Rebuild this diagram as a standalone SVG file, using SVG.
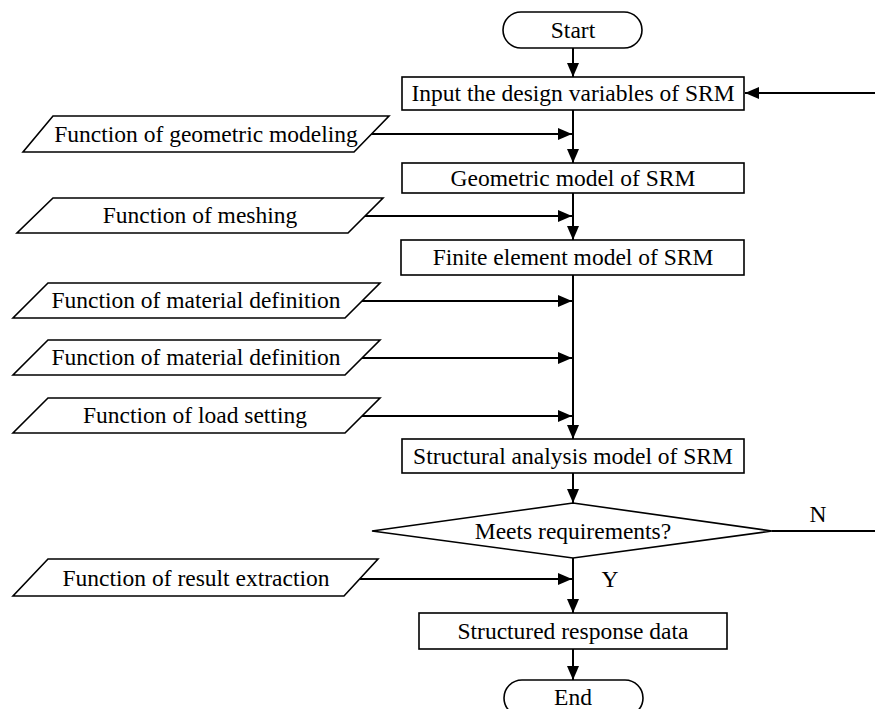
<svg xmlns="http://www.w3.org/2000/svg" width="875" height="709" viewBox="0 0 875 709">
  <style>
    .shape { fill: #ffffff; stroke: #000000; stroke-width: 1.6; }
    .label { font-family: "Liberation Serif", "Times New Roman", serif; font-size: 23.5px; fill: #000000; text-anchor: middle; }
    .flow { fill: none; stroke: #000000; stroke-width: 2; }
  </style>
  <defs>
    <marker id="arrow" markerUnits="userSpaceOnUse" markerWidth="14" markerHeight="12" refX="14" refY="6" orient="auto">
      <path d="M0,0 L14,6 L0,12 z" fill="#000000"/>
    </marker>
  </defs>
  <rect width="875" height="709" fill="#ffffff"/>

  <!-- connectors -->
  <g id="connectors">
    <!-- main spine -->
    <line class="flow" x1="573" y1="48" x2="573" y2="77" marker-end="url(#arrow)"/>
    <line class="flow" x1="573" y1="110" x2="573" y2="163" marker-end="url(#arrow)"/>
    <line class="flow" x1="573" y1="193" x2="573" y2="240" marker-end="url(#arrow)"/>
    <line class="flow" x1="573" y1="275" x2="573" y2="439" marker-end="url(#arrow)"/>
    <line class="flow" x1="573" y1="473" x2="573" y2="503" marker-end="url(#arrow)"/>
    <line class="flow" x1="573" y1="558" x2="573" y2="613" marker-end="url(#arrow)"/>
    <line class="flow" x1="573" y1="649" x2="573" y2="680" marker-end="url(#arrow)"/>
    <!-- function inputs -->
    <line class="flow" x1="371" y1="134" x2="572" y2="134" marker-end="url(#arrow)"/>
    <line class="flow" x1="365" y1="216" x2="572" y2="216" marker-end="url(#arrow)"/>
    <line class="flow" x1="362" y1="301" x2="572" y2="301" marker-end="url(#arrow)"/>
    <line class="flow" x1="362" y1="358" x2="572" y2="358" marker-end="url(#arrow)"/>
    <line class="flow" x1="362" y1="416" x2="572" y2="416" marker-end="url(#arrow)"/>
    <line class="flow" x1="360" y1="579" x2="572" y2="579" marker-end="url(#arrow)"/>
    <!-- loop back on N -->
    <line class="flow" x1="772" y1="531" x2="875" y2="531"/>
    <line class="flow" x1="875" y1="93" x2="745" y2="93" marker-end="url(#arrow)"/>
    <text class="label" x="818" y="522">N</text>
    <text class="label" x="610" y="587">Y</text>
  </g>

  <g id="start">
    <rect class="shape" x="503" y="12" width="139" height="36" rx="18" ry="18"/>
    <text class="label" x="573" y="38">Start</text>
  </g>

  <g id="input-variables">
    <rect class="shape" x="402" y="77" width="342" height="33"/>
    <text class="label" x="573" y="101">Input the design variables of SRM</text>
  </g>

  <g id="fn-geometric">
    <polygon class="shape" points="53,116 389,116 354,152 23,152"/>
    <text class="label" x="206" y="142">Function of geometric modeling</text>
  </g>

  <g id="geometric-model">
    <rect class="shape" x="402" y="163" width="342" height="30"/>
    <text class="label" x="573" y="186">Geometric model of SRM</text>
  </g>

  <g id="fn-meshing">
    <polygon class="shape" points="53,198 383,198 348,233 17,233"/>
    <text class="label" x="200" y="223">Function of meshing</text>
  </g>

  <g id="fe-model">
    <rect class="shape" x="401" y="240" width="343" height="35"/>
    <text class="label" x="573" y="265">Finite element model of SRM</text>
  </g>

  <g id="fn-material-1">
    <polygon class="shape" points="48,283 380,283 345,318 13,318"/>
    <text class="label" x="196" y="308">Function of material definition</text>
  </g>

  <g id="fn-material-2">
    <polygon class="shape" points="48,340 380,340 345,375 13,375"/>
    <text class="label" x="196" y="365">Function of material definition</text>
  </g>

  <g id="fn-load">
    <polygon class="shape" points="48,398 380,398 345,433 13,433"/>
    <text class="label" x="195" y="423">Function of load setting</text>
  </g>

  <g id="structural-model">
    <rect class="shape" x="402" y="439" width="342" height="34"/>
    <text class="label" x="573" y="464">Structural analysis model of SRM</text>
  </g>

  <g id="decision">
    <polygon class="shape" points="573,503 772,531 573,558 372,531"/>
    <text class="label" x="573" y="539">Meets requirements?</text>
  </g>

  <g id="fn-result">
    <polygon class="shape" points="48,559 378,559 344,596 13,596"/>
    <text class="label" x="196" y="586">Function of result extraction</text>
  </g>

  <g id="response-data">
    <rect class="shape" x="419" y="613" width="308" height="36"/>
    <text class="label" x="573" y="639">Structured response data</text>
  </g>

  <g id="end">
    <rect class="shape" x="504" y="680" width="139" height="36" rx="18" ry="18"/>
    <text class="label" x="573" y="705">End</text>
  </g>
</svg>
